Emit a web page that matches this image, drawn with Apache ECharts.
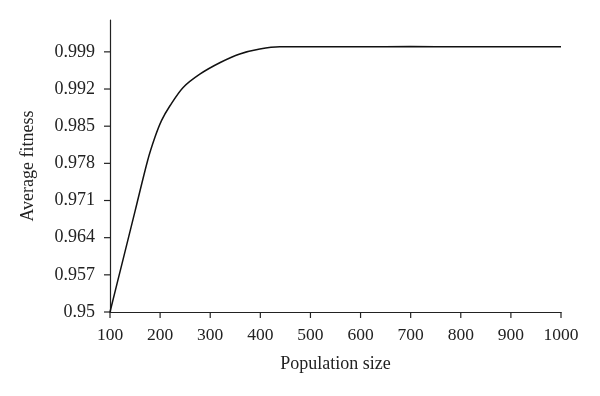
<!DOCTYPE html>
<html>
<head>
<meta charset="utf-8">
<script src="https://cdn.jsdelivr.net/npm/echarts@6/dist/echarts.min.js"></script>
<style>html,body{margin:0;padding:0;background:#fff}#c{width:600px;height:396px}</style>
</head>
<body>
<div id="c"></div>
<script>
var populationSize = [100, 125, 150, 175, 190, 203, 220, 246, 280, 320, 359, 399, 439, 500, 600, 700, 800, 900, 1000];
var averageFitness = [0.9500, 0.9595, 0.9690, 0.9785, 0.9830, 0.9861, 0.9889, 0.9923, 0.99485, 0.9970, 0.99861, 0.99954, 0.99995, 0.99995, 0.99995, 1.0000, 0.99995, 0.99995, 0.99995];
var xTicks = [100, 200, 300, 400, 500, 600, 700, 800, 900, 1000];
var yTicks = [0.95, 0.957, 0.964, 0.971, 0.978, 0.985, 0.992, 0.999];

var font = 'Liberation Serif';
var chart = echarts.init(document.getElementById('c'), null, {renderer: 'canvas'});
chart.setOption({
  animation: false,
  grid: {left: 110, right: 39, top: 20, bottom: 84},
  xAxis: {
    type: 'value', min: 100, max: 1000, interval: 100,
    name: 'Population size', nameLocation: 'middle', nameGap: 43,
    nameTextStyle: {fontFamily: font, fontSize: 18, color: '#222'},
    axisLine: {show: true, lineStyle: {color: '#222', width: 1.2}},
    axisTick: {show: false},
    axisLabel: {fontFamily: font, fontSize: 17.5, color: '#222', margin: 14,
      formatter: function (v) { return String(v); }},
    splitLine: {show: false}
  },
  yAxis: {
    type: 'value', min: 0.95, max: 1.005,
    name: 'Average fitness', nameLocation: 'middle', nameGap: 73, nameRotate: 90,
    nameTextStyle: {fontFamily: font, fontSize: 18, color: '#222'},
    axisLine: {show: true, lineStyle: {color: '#222', width: 1.2}},
    axisTick: {show: false},
    axisLabel: {fontFamily: font, fontSize: 18, color: '#222', margin: 15, customValues: yTicks,
      formatter: function (v) { return String(+v.toFixed(3)); }},
    splitLine: {show: false}
  },
  series: [{
    type: 'line', data: populationSize.map(function (x, i) { return [x, averageFitness[i]]; }),
    smooth: 0.3, showSymbol: false, symbol: 'none',
    lineStyle: {color: '#111', width: 1.5}
  }]
});

// axis ticks drawn through the chart's own scales
var tickLen = 6;
var ticks = [];
xTicks.forEach(function (v) {
  var p = chart.convertToPixel({gridIndex: 0}, [v, yTicks[0]]);
  ticks.push({type: 'line', silent: true, shape: {x1: p[0], y1: p[1], x2: p[0], y2: p[1] + tickLen},
    style: {stroke: '#222', lineWidth: 1.2}});
});
yTicks.forEach(function (v) {
  var p = chart.convertToPixel({gridIndex: 0}, [xTicks[0], v]);
  ticks.push({type: 'line', silent: true, shape: {x1: p[0] - tickLen, y1: p[1], x2: p[0], y2: p[1]},
    style: {stroke: '#222', lineWidth: 1.2}});
});
chart.setOption({graphic: ticks});
</script>
</body>
</html>
